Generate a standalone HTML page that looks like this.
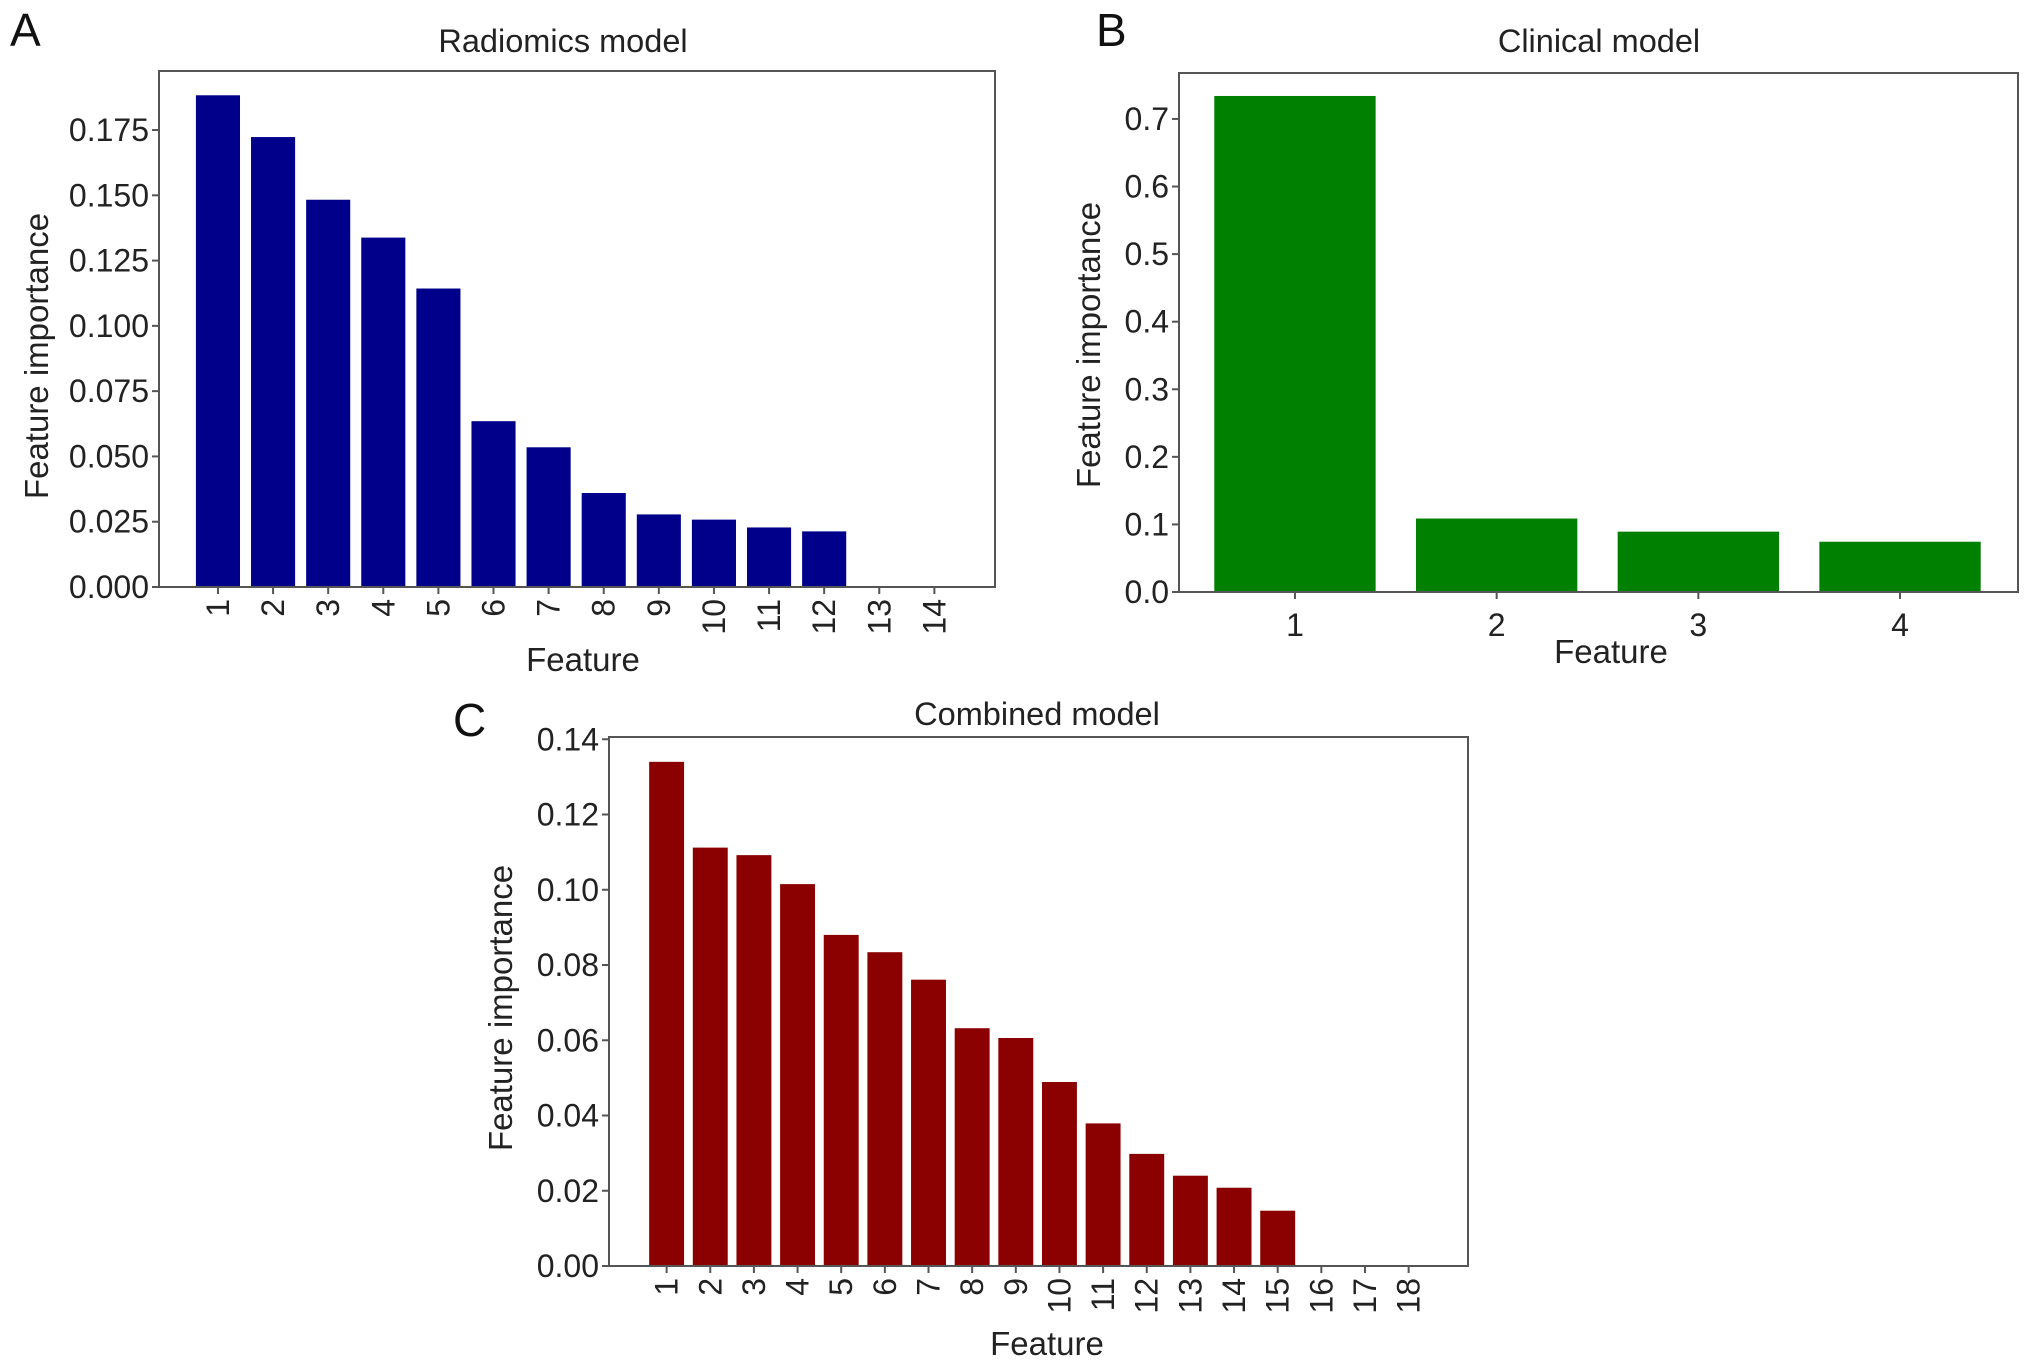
<!DOCTYPE html>
<html><head><meta charset="utf-8"><style>
html,body{margin:0;padding:0;background:#fff;}
svg{display:block;font-family:"Liberation Sans",Arial,sans-serif;}
</style></head><body>
<svg id="fig" width="2032" height="1367" viewBox="0 0 2032 1367" xmlns="http://www.w3.org/2000/svg"></svg>
<script>
// Panel A data
const radiomicsCategories = ["1","2","3","4","5","6","7","8","9","10","11","12","13","14"];
const radiomicsValues = [0.1883,0.1723,0.1483,0.1338,0.1143,0.0635,0.0535,0.036,0.0278,0.0258,0.0228,0.0213,0,0];
const radiomicsTicks = ["0.000","0.025","0.050","0.075","0.100","0.125","0.150","0.175"];
// Panel B data
const clinicalCategories = ["1","2","3","4"];
const clinicalValues = [0.734,0.1087,0.0893,0.0744];
const clinicalTicks = ["0.0","0.1","0.2","0.3","0.4","0.5","0.6","0.7"];
// Panel C data
const combinedCategories = ["1","2","3","4","5","6","7","8","9","10","11","12","13","14","15","16","17","18"];
const combinedValues = [0.134,0.1112,0.1092,0.1015,0.088,0.0834,0.0761,0.0632,0.0606,0.0489,0.0379,0.0298,0.024,0.0208,0.0147,0,0,0];
const combinedTicks = ["0.00","0.02","0.04","0.06","0.08","0.10","0.12","0.14"];

const NS="http://www.w3.org/2000/svg";
const svg=document.getElementById('fig');
function mk(tag,attrs,parent){const e=document.createElementNS(NS,tag);for(const k in attrs)e.setAttribute(k,attrs[k]);(parent||svg).appendChild(e);return e;}

function panel(o){
  const g=mk('g',{});
  
  
  const xs=v=>o.L+(v-o.xmin)/(o.xmax-o.xmin)*(o.R-o.L);
  const ys=v=>o.B-(v-0)/(o.ymax)*(o.B-o.T);
  const step=xs(2)-xs(1);
  o.vals.forEach((v,i)=>{
    if(v<=0) return;
    const cx=xs(i+1), w=step*0.8;
    const r=mk('rect',{x:cx-w/2,y:ys(v),width:w,height:ys(0)-ys(v),fill:o.color},g);
    
    
  });
  const fr=mk('rect',{x:o.L,y:o.T,width:o.R-o.L,height:o.B-o.T,fill:'none',stroke:'#555',"stroke-width":2},g);
  
  
  o.ticks.forEach(t=>{
    const y=ys(parseFloat(t));
    mk('line',{x1:o.L-7,x2:o.L,y1:y,y2:y,stroke:'#555',"stroke-width":2},g);
    const tx=mk('text',{x:o.L-10,y:y,"text-anchor":"end","dominant-baseline":"central","font-size":32,fill:'#222'},g);
    tx.textContent=t;
    
    
  });
  o.cats.forEach((c,i)=>{
    const x=xs(i+1);
    mk('line',{x1:x,x2:x,y1:o.B,y2:o.B+7,stroke:'#555',"stroke-width":2},g);
    let tx;
    if(o.rot){
      tx=mk('text',{x:x,y:o.B+12,"text-anchor":"end","dominant-baseline":"central","font-size":32,fill:'#222',transform:`rotate(-90 ${x} ${o.B+12})`},g);
    } else {
      tx=mk('text',{x:x,y:o.B+44,"text-anchor":"middle","font-size":32,fill:'#222'},g);
    }
    tx.textContent=c;
    
    
  });
  const ti=mk('text',{x:o.titleX,y:o.titleY,"text-anchor":"middle","font-size":32.5,fill:'#222'},g);
  ti.textContent=o.title;
  
  
  const xl=mk('text',{x:o.xlX,y:o.xlY,"text-anchor":"middle","font-size":33,fill:'#222'},g);
  xl.textContent='Feature';
  
  
  const yl=mk('text',{x:o.ylX,y:o.ylY,"text-anchor":"middle","font-size":33,fill:'#222',transform:`rotate(-90 ${o.ylX} ${o.ylY})`},g);
  yl.textContent='Feature importance';
  
  
  const lt=mk('text',{x:o.letX,y:o.letY,"font-size":46,fill:'#111'},g);
  lt.textContent=o.letter;
  
  
}

panel({key:'radiomics',cats:radiomicsCategories,vals:radiomicsValues,ticks:radiomicsTicks,color:'#00008b',
  L:159,R:995,T:71,B:587,xmin:-0.07,xmax:15.1,ymax:0.1976,rot:true,
  title:'Radiomics model',titleX:563,titleY:52,xlX:583,xlY:671,ylX:48,ylY:356,letter:'A',letX:10,letY:46});
panel({key:'clinical',cats:clinicalCategories,vals:clinicalValues,ticks:clinicalTicks,color:'#008000',
  L:1179,R:2018,T:73,B:592,xmin:0.425,xmax:4.585,ymax:0.768,rot:false,
  title:'Clinical model',titleX:1599,titleY:52,xlX:1611,xlY:663,ylX:1100,ylY:345,letter:'B',letX:1096,letY:46});
panel({key:'combined',cats:combinedCategories,vals:combinedValues,ticks:combinedTicks,color:'#8b0000',
  L:609,R:1468,T:737,B:1266,xmin:-0.32,xmax:19.36,ymax:0.1406,rot:true,
  title:'Combined model',titleX:1037,titleY:725,xlX:1047,xlY:1355,ylX:512,ylY:1008,letter:'C',letX:453,letY:736});
</script>
</body></html>
